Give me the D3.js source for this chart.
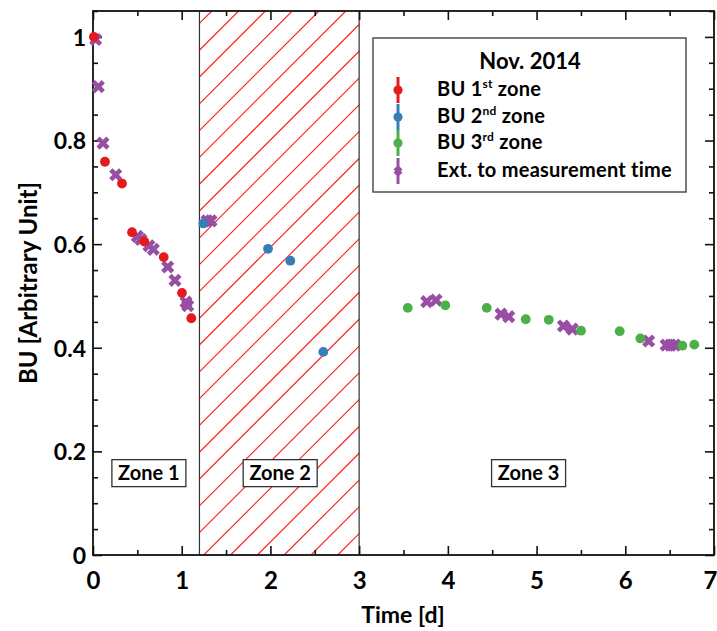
<!DOCTYPE html>
<html><head><meta charset="utf-8">
<script src="https://cdn.jsdelivr.net/npm/d3@7"></script>
<style>body{margin:0;background:#fff}svg{display:block;font-family:Lato,"Open Sans",sans-serif;font-weight:bold}</style>
</head><body><svg id="c" width="717" height="631"></svg>
<script>
// ---- data ----
const zone1T = [0.01, 0.135, 0.327, 0.44, 0.578, 0.797, 1.003, 1.108];
const zone1Y = [1.0, 0.759, 0.717, 0.623, 0.605, 0.575, 0.506, 0.457];
const zone2T = [1.243, 1.973, 2.224, 2.596];
const zone2Y = [0.640, 0.591, 0.568, 0.392];
const zone3T = [3.548, 3.971, 4.438, 4.878, 5.137, 5.501, 5.937, 6.17, 6.643, 6.778];
const zone3Y = [0.477, 0.482, 0.477, 0.455, 0.454, 0.433, 0.432, 0.418, 0.404, 0.406];
const extT = [0.03, 0.06, 0.113, 0.256, 0.50, 0.54, 0.63, 0.68, 0.842, 0.924, 1.048, 1.068,
              1.285, 1.33,
              3.762, 3.867, 4.599, 4.686, 5.302, 5.403, 6.264, 6.46, 6.51, 6.56];
const extY = [0.995, 0.904, 0.795, 0.734, 0.615, 0.609, 0.597, 0.590, 0.556, 0.530, 0.488, 0.481,
              0.645, 0.645,
              0.489, 0.492, 0.465, 0.460, 0.442, 0.436, 0.413, 0.405, 0.405, 0.405];
const xTicks = [0, 1, 2, 3, 4, 5, 6, 7];
const yTicks = [0, 0.2, 0.4, 0.6, 0.8, 1];
const yTickLabels = ["0", "0.2", "0.4", "0.6", "0.8", "1"];
const zoneBounds = [1.2, 3];
const zoneLabels = ["Zone 1", "Zone 2", "Zone 3"];
const zoneLabelT = [0.63, 2.11, 4.91];
const zoneLabelY = 0.158;
const legendTitle = "Nov. 2014";
const legendItems = [["BU 1", "st", " zone"], ["BU 2", "nd", " zone"], ["BU 3", "rd", " zone"], ["Ext. to measurement time", "", ""]];
const colors = {z1: "#e41a1c", z2: "#377eb8", z3: "#4daf4a", ext: "#984ea3"};

// ---- layout ----
const svg = d3.select("#c");
const L = 93, R = 714, T = 11, B = 555;
const x = d3.scaleLinear().domain([0, 7]).range([L, R]);
const y = d3.scaleLinear().domain([0, 1.05]).range([B, T]);

// hatched zone 2
const defs = svg.append("defs");
defs.append("clipPath").attr("id", "z2clip").append("rect")
  .attr("x", x(zoneBounds[0])).attr("y", T).attr("width", x(zoneBounds[1]) - x(zoneBounds[0])).attr("height", B - T);
const hatch = svg.append("g").attr("clip-path", "url(#z2clip)");
for (let k = -40; k < 40; k++) {
  const c = 598 + 26.8 * k;
  hatch.append("line").attr("x1", c - B).attr("y1", B).attr("x2", c - T).attr("y2", T)
    .attr("stroke", "#ff1a1a").attr("stroke-width", 1.1);
}
zoneBounds.forEach(b => svg.append("line").attr("x1", x(b)).attr("x2", x(b)).attr("y1", T).attr("y2", B)
  .attr("stroke", "#333").attr("stroke-width", 1.2));

// axes ticks (inward), all four sides
const xMinor = d3.range(0, 7.01, 0.5).filter(v => Math.abs(v - Math.round(v)) > 1e-6);
const yMinor = d3.range(0, 1.051, 0.05).filter(v => !yTicks.some(t => Math.abs(t - v) < 1e-6));
function tickAxis(axisFn, scale, vals, size, pos, labels, fmt) {
  const a = axisFn(scale).tickValues(vals).tickSizeInner(-size).tickSizeOuter(0);
  if (!labels) a.tickFormat(""); else a.tickFormat(fmt).tickPadding(12);
  const g = svg.append("g").attr("transform", pos).call(a);
  g.select(".domain").remove();
  g.selectAll(".tick line").attr("stroke", "#111").attr("stroke-width", 1.6);
  return g;
}
const gx = tickAxis(d3.axisBottom, x, xTicks, 9, `translate(0,${B})`, true, d3.format("d"));
gx.selectAll("text").attr("font-size", 24).attr("font-family", "Lato").attr("font-weight", "bold").attr("fill", "#000").attr("dy", "0.9em");
gx.selectAll(".tick").filter(d => d === 7).select("text").attr("text-anchor", "end").attr("x", 3);
tickAxis(d3.axisBottom, x, xMinor, 5, `translate(0,${B})`, false);
tickAxis(d3.axisTop, x, xTicks, 9, `translate(0,${T})`, false);
tickAxis(d3.axisTop, x, xMinor, 5, `translate(0,${T})`, false);
const gy = tickAxis(d3.axisLeft, y, yTicks, 9, `translate(${L},0)`, true, (d, i) => yTickLabels[i]);
gy.selectAll("text").attr("font-size", 23).attr("font-family", "Lato").attr("font-weight", "bold").attr("fill", "#000").attr("dy", "0.36em");
gy.selectAll(".tick text").attr("x", -7);
tickAxis(d3.axisLeft, y, yMinor, 5, `translate(${L},0)`, false);
tickAxis(d3.axisRight, y, yTicks, 9, `translate(${R},0)`, false);
tickAxis(d3.axisRight, y, yMinor, 5, `translate(${R},0)`, false);

// frame
svg.append("rect").attr("x", L).attr("y", T).attr("width", R - L).attr("height", B - T)
  .attr("fill", "none").attr("stroke", "#111").attr("stroke-width", 1.8);

// axis titles
svg.append("text").attr("x", 403).attr("y", 623).attr("text-anchor", "middle").attr("font-size", 23).text("Time [d]");
svg.append("text").attr("transform", "translate(37,283) rotate(-90)").attr("text-anchor", "middle").attr("font-size", 24).text("BU [Arbitrary Unit]");

// zone label boxes
zoneLabels.forEach((lab, i) => {
  const cx = x(zoneLabelT[i]), cy = y(zoneLabelY);
  svg.append("rect").attr("x", cx - 37).attr("y", cy - 13.5).attr("width", 74).attr("height", 27)
    .attr("fill", "#fff").attr("stroke", "#333").attr("stroke-width", 1.3);
  svg.append("text").attr("x", cx).attr("y", cy + 7).attr("text-anchor", "middle").attr("font-size", 20).text(lab);
});

// points
const xPath = s => `M${-s},${-s}L${s},${s}M${-s},${s}L${s},${-s}`;
svg.append("g").selectAll("path").data(d3.zip(extT, extY)).join("path")
  .attr("transform", d => `translate(${x(d[0])},${y(d[1])})`).attr("d", xPath(3.3))
  .attr("stroke", colors.ext).attr("stroke-width", 4.6).attr("stroke-linecap", "square").attr("fill", "none");
[[zone1T, zone1Y, colors.z1], [zone2T, zone2Y, colors.z2], [zone3T, zone3Y, colors.z3]].forEach(([ts, ys, col]) => {
  svg.append("g").selectAll("circle").data(d3.zip(ts, ys)).join("circle")
    .attr("cx", d => x(d[0])).attr("cy", d => y(d[1])).attr("r", 4.9).attr("fill", col);
});

// legend
svg.append("rect").attr("x", 373).attr("y", 38).attr("width", 313).attr("height", 154)
  .attr("fill", "#fff").attr("stroke", "#444").attr("stroke-width", 1.4);
svg.append("text").attr("x", 530).attr("y", 69).attr("text-anchor", "middle").attr("font-size", 22).text(legendTitle);
const legCols = [colors.z1, colors.z2, colors.z3, colors.ext];
const rowY = [90, 117, 143, 171];
legendItems.forEach((it, i) => {
  const ry = rowY[i], col = legCols[i];
  svg.append("line").attr("x1", 398).attr("x2", 398).attr("y1", ry - 13).attr("y2", ry + 13).attr("stroke", col).attr("stroke-width", 3);
  if (i < 3) svg.append("circle").attr("cx", 398).attr("cy", ry).attr("r", 4.6).attr("fill", col);
  else svg.append("path").attr("transform", `translate(398,${ry})`).attr("d", xPath(3)).attr("stroke", col).attr("stroke-width", 4).attr("fill", "none");
  const t = svg.append("text").attr("x", 437).attr("y", ry + 6).attr("font-size", 20).attr("letter-spacing", 0.25);
  t.append("tspan").text(it[0]);
  if (it[1]) {
    t.append("tspan").attr("dy", -8).attr("font-size", 12).text(it[1]);
    t.append("tspan").attr("dy", 8).text(it[2]);
  }
});
</script></body></html>
